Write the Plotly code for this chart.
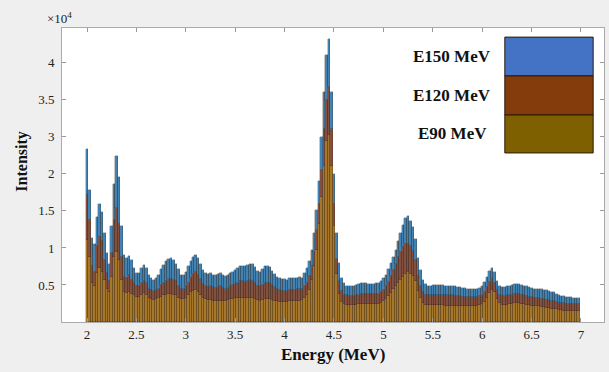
import plotly.graph_objects as go

# Bin centres (MeV), 0.025 MeV wide bins from 2.000 to 6.975
bin_start = 2.0
bin_width = 0.025
n_bins = 200
energy = [round(bin_start + bin_width * i, 3) for i in range(n_bins)]

# Intensity contributions in units of 1e4 (stacked: E90 bottom, E120 middle, E150 top)
e90 = [1.11, 0.88, 0.52, 0.48, 0.66, 0.73, 0.68, 0.57, 0.45, 0.41,
       0.61, 0.88, 0.95, 0.84, 0.57, 0.41, 0.39, 0.41, 0.38, 0.36,
       0.34, 0.34, 0.36, 0.39, 0.36, 0.32, 0.31, 0.30, 0.31, 0.32,
       0.34, 0.36, 0.37, 0.38, 0.38, 0.37, 0.36, 0.33, 0.31, 0.31,
       0.33, 0.36, 0.40, 0.42, 0.43, 0.41, 0.37, 0.33, 0.31, 0.30,
       0.30, 0.29, 0.28, 0.29, 0.29, 0.29, 0.29, 0.30, 0.31, 0.31,
       0.32, 0.32, 0.32, 0.32, 0.32, 0.33, 0.33, 0.32, 0.31, 0.30,
       0.29, 0.30, 0.31, 0.31, 0.31, 0.30, 0.29, 0.28, 0.27, 0.27,
       0.27, 0.27, 0.28, 0.28, 0.28, 0.29, 0.29, 0.30, 0.32, 0.36,
       0.43, 0.57, 0.75, 0.97, 1.33, 1.69, 2.10, 2.45, 2.53, 2.10,
       1.30, 0.65, 0.38, 0.27, 0.24, 0.23, 0.23, 0.23, 0.23, 0.23,
       0.24, 0.24, 0.24, 0.24, 0.24, 0.24, 0.24, 0.24, 0.24, 0.26,
       0.28, 0.31, 0.35, 0.39, 0.44, 0.48, 0.53, 0.57, 0.61, 0.65,
       0.67, 0.65, 0.62, 0.55, 0.42, 0.32, 0.26, 0.23, 0.23, 0.23,
       0.23, 0.23, 0.23, 0.23, 0.23, 0.22, 0.22, 0.22, 0.22, 0.22,
       0.22, 0.22, 0.22, 0.22, 0.22, 0.22, 0.22, 0.22, 0.22, 0.23,
       0.24, 0.27, 0.33, 0.39, 0.43, 0.40, 0.31, 0.25, 0.23, 0.23,
       0.23, 0.24, 0.24, 0.25, 0.25, 0.25, 0.24, 0.24, 0.23, 0.23,
       0.22, 0.22, 0.21, 0.21, 0.20, 0.20, 0.19, 0.19, 0.18, 0.18,
       0.17, 0.16, 0.16, 0.15, 0.15, 0.15, 0.15, 0.15, 0.15, 0.15]

e120 = [0.61, 0.50, 0.23, 0.20, 0.36, 0.42, 0.41, 0.27, 0.21, 0.14,
        0.32, 0.50, 0.59, 0.49, 0.31, 0.20, 0.20, 0.23, 0.19, 0.16,
        0.14, 0.14, 0.16, 0.17, 0.16, 0.13, 0.12, 0.12, 0.12, 0.13,
        0.16, 0.17, 0.19, 0.20, 0.20, 0.20, 0.19, 0.16, 0.13, 0.13,
        0.15, 0.17, 0.20, 0.23, 0.24, 0.23, 0.21, 0.18, 0.17, 0.17,
        0.18, 0.18, 0.18, 0.18, 0.19, 0.17, 0.16, 0.16, 0.17, 0.19,
        0.19, 0.21, 0.23, 0.23, 0.22, 0.22, 0.24, 0.24, 0.21, 0.19,
        0.19, 0.20, 0.21, 0.22, 0.21, 0.20, 0.18, 0.17, 0.16, 0.15,
        0.15, 0.15, 0.15, 0.15, 0.15, 0.15, 0.15, 0.14, 0.16, 0.17,
        0.19, 0.18, 0.20, 0.27, 0.27, 0.36, 0.50, 0.55, 0.65, 0.50,
        0.30, 0.20, 0.17, 0.15, 0.13, 0.13, 0.12, 0.12, 0.12, 0.13,
        0.13, 0.14, 0.14, 0.14, 0.14, 0.14, 0.14, 0.14, 0.14, 0.14,
        0.15, 0.17, 0.19, 0.23, 0.26, 0.31, 0.35, 0.38, 0.40, 0.40,
        0.39, 0.37, 0.34, 0.29, 0.20, 0.16, 0.15, 0.14, 0.13, 0.13,
        0.13, 0.14, 0.14, 0.14, 0.14, 0.14, 0.14, 0.14, 0.14, 0.13,
        0.13, 0.13, 0.12, 0.12, 0.12, 0.12, 0.12, 0.12, 0.12, 0.12,
        0.13, 0.14, 0.14, 0.15, 0.15, 0.13, 0.12, 0.12, 0.12, 0.12,
        0.13, 0.12, 0.13, 0.13, 0.13, 0.13, 0.13, 0.12, 0.12, 0.11,
        0.12, 0.11, 0.11, 0.11, 0.11, 0.11, 0.11, 0.11, 0.11, 0.10,
        0.10, 0.10, 0.09, 0.10, 0.09, 0.09, 0.09, 0.09, 0.09, 0.09]

e150 = [0.61, 0.40, 0.38, 0.38, 0.40, 0.45, 0.40, 0.36, 0.27, 0.24,
        0.36, 0.49, 0.70, 0.63, 0.41, 0.30, 0.27, 0.25, 0.27, 0.21,
        0.18, 0.18, 0.21, 0.21, 0.21, 0.19, 0.16, 0.15, 0.16, 0.19,
        0.21, 0.24, 0.26, 0.27, 0.28, 0.27, 0.23, 0.22, 0.20, 0.20,
        0.20, 0.22, 0.23, 0.23, 0.24, 0.23, 0.21, 0.19, 0.18, 0.18,
        0.18, 0.17, 0.18, 0.18, 0.18, 0.18, 0.17, 0.18, 0.18, 0.18,
        0.19, 0.20, 0.20, 0.21, 0.21, 0.22, 0.22, 0.22, 0.22, 0.20,
        0.20, 0.21, 0.23, 0.23, 0.22, 0.19, 0.18, 0.16, 0.16, 0.16,
        0.16, 0.15, 0.16, 0.16, 0.17, 0.16, 0.17, 0.16, 0.18, 0.20,
        0.20, 0.22, 0.25, 0.27, 0.30, 0.45, 0.50, 0.60, 0.64, 0.50,
        0.40, 0.35, 0.25, 0.18, 0.15, 0.13, 0.13, 0.13, 0.14, 0.14,
        0.14, 0.14, 0.15, 0.14, 0.13, 0.13, 0.13, 0.14, 0.14, 0.15,
        0.16, 0.16, 0.18, 0.18, 0.18, 0.18, 0.22, 0.25, 0.30, 0.35,
        0.37, 0.35, 0.32, 0.28, 0.24, 0.22, 0.16, 0.14, 0.13, 0.13,
        0.14, 0.13, 0.13, 0.13, 0.13, 0.13, 0.13, 0.12, 0.12, 0.13,
        0.12, 0.12, 0.12, 0.12, 0.11, 0.11, 0.11, 0.11, 0.11, 0.11,
        0.12, 0.13, 0.14, 0.15, 0.15, 0.15, 0.13, 0.12, 0.12, 0.12,
        0.12, 0.13, 0.13, 0.13, 0.13, 0.13, 0.13, 0.13, 0.13, 0.13,
        0.12, 0.12, 0.13, 0.12, 0.13, 0.12, 0.13, 0.12, 0.12, 0.12,
        0.11, 0.10, 0.10, 0.10, 0.10, 0.10, 0.10, 0.09, 0.09, 0.09]

series_names = ["E90 MeV", "E120 MeV", "E150 MeV"]
legend_order = ["E150 MeV", "E120 MeV", "E90 MeV"]

x_tickvals = [2, 2.5, 3, 3.5, 4, 4.5, 5, 5.5, 6, 6.5, 7]
x_ticktext = ["2", "2.5", "3", "3.5", "4", "4.5", "5", "5.5", "6", "6.5", "7"]
y_tickvals = [0.5, 1, 1.5, 2, 2.5, 3, 3.5]
y_ticktext = ["0.5", "1", "1.5", "2", "3", "3.5", "4"]

bar_colors = {"E90 MeV": "#a7782b", "E120 MeV": "#83503f", "E150 MeV": "#4383b3"}
swatch_colors = {"E150 MeV": "#4472C4", "E120 MeV": "#843C0C", "E90 MeV": "#7F6000"}

SERIF = "Liberation Serif, Times New Roman, serif"

fig = go.Figure()
for name, vals in zip(series_names, [e90, e120, e150]):
    fig.add_trace(go.Bar(
        x=energy, y=vals, name=name, width=bin_width,
        marker=dict(color=bar_colors[name],
                    line=dict(color="rgba(45,30,20,0.5)", width=0.5)),
        showlegend=False,
    ))

# Legend drawn as swatch boxes with labels (paper coordinates of the plot area)
box_x0, box_x1 = 0.817, 0.980
box_edges = [0.969, 0.837, 0.704, 0.575]
label_x = 0.720
shapes = []
annotations = []
for i, name in enumerate(legend_order):
    shapes.append(dict(type="rect", xref="paper", yref="paper",
                       x0=box_x0, x1=box_x1, y0=box_edges[i + 1], y1=box_edges[i],
                       fillcolor=swatch_colors[name],
                       line=dict(color="#2a1a0a", width=1)))
    annotations.append(dict(xref="paper", yref="paper",
                            x=label_x, y=(box_edges[i] + box_edges[i + 1]) / 2,
                            xanchor="center", yanchor="middle",
                            text="<b>%s</b>" % name, showarrow=False,
                            font=dict(family=SERIF, size=17, color="#111")))

annotations.append(dict(xref="paper", yref="paper", x=-0.004, y=1.035,
                        xanchor="center", yanchor="middle",
                        text="×10<sup>4</sup>", showarrow=False,
                        font=dict(family=SERIF, size=13, color="#222")))
annotations.append(dict(xref="paper", yref="paper", x=0.50, y=-0.112,
                        xanchor="center", yanchor="middle",
                        text="<b>Energy (MeV)</b>", showarrow=False,
                        font=dict(family=SERIF, size=17, color="#111")))
annotations.append(dict(xref="paper", yref="paper", x=-0.074, y=0.545,
                        xanchor="center", yanchor="middle",
                        text="<b>Intensity</b>", showarrow=False, textangle=-90,
                        font=dict(family=SERIF, size=16, color="#111")))

fig.update_layout(
    width=609, height=372,
    margin=dict(l=62, r=5, t=28, b=50),
    paper_bgcolor="#efefef",
    plot_bgcolor="white",
    barmode="stack",
    bargap=0,
    shapes=shapes,
    annotations=annotations,
    font=dict(family=SERIF, size=13, color="#222"),
)
fig.update_xaxes(range=[1.747, 7.233], tickvals=x_tickvals, ticktext=x_ticktext,
                 ticks="inside", ticklen=4, tickcolor="#999", showline=True,
                 linecolor="#aaa", linewidth=1, mirror="ticks", showgrid=False,
                 zeroline=False, ticklabelstandoff=0,
                 tickfont=dict(family=SERIF, size=13, color="#222"))
fig.update_yaxes(range=[0, 3.97], tickvals=y_tickvals, ticktext=y_ticktext,
                 ticks="inside", ticklen=4, tickcolor="#999", showline=True,
                 linecolor="#aaa", linewidth=1, mirror="ticks", showgrid=False,
                 zeroline=False, ticklabelstandoff=4,
                 tickfont=dict(family=SERIF, size=13, color="#222"))

fig.write_html("out.html")
